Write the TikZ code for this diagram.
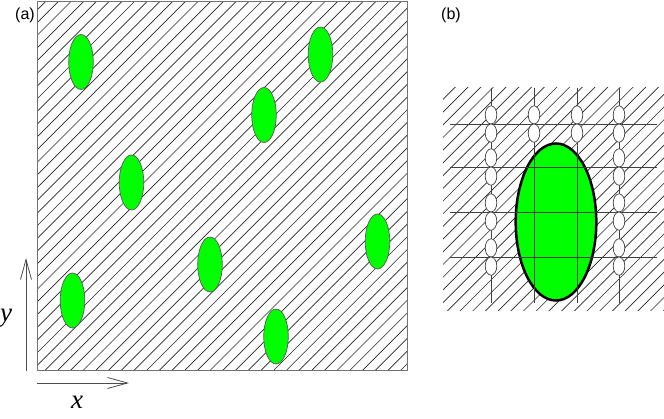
\documentclass[tikz,border=0pt]{standalone}
\usepackage{fontspec}
\setmainfont{Liberation Serif}
\newfontfamily\labfont{Liberation Sans}
\usetikzlibrary{arrows.meta}
\definecolor{blobgreen}{RGB}{0,255,0}
\begin{document}
\begin{tikzpicture}[x=1pt,y=-1pt,
  hatchline/.style={line width=0.65pt, black!85},
  frame/.style={draw=black!55, line width=1pt},
  blob/.style={fill=blobgreen, draw=black!65, line width=0.7pt},
  bigblob/.style={fill=blobgreen, draw=black, line width=2.5pt},
  gridline/.style={draw=black!75, line width=0.8pt},
  small/.style={fill=white, draw=black!75, line width=0.7pt},
  axis/.style={draw=black!70, line width=0.8pt, -{Straight Barb[length=20pt,width=11pt]}},
  panellabel/.style={font=\labfont\fontsize{16}{16}\selectfont, inner sep=0pt},
  axlabel/.style={font=\fontsize{27}{27}\selectfont\itshape, inner sep=0pt}]
\useasboundingbox (0,0) rectangle (664,418);
% panel (a)
\begin{scope}
  \clip (37,1) rectangle (407,370);
  \foreach \k in {-50,...,11} {
    \pgfmathsetmacro\c{656.7+12.7*\k}
    \draw[hatchline] (\c-420,420) -- (\c,0);
  }
\end{scope}
\draw[frame] (37,1) rectangle (407,370);
\foreach \cx/\cy in {81/62, 320.5/54.5, 264/115, 131.5/182.5, 210/264.5, 377.5/241.5, 72.5/300.5, 276/336.5} {
  \draw[blob] (\cx,\cy) ellipse [x radius=12.3pt, y radius=27.5pt];
}
\coordinate (yo) at (26,371);
\coordinate (yt) at (26,258);
\draw[axis] (yo) -- (yt);
\coordinate (xo) at (37,383);
\coordinate (xt) at (129,383);
\draw[axis] (xo) -- (xt);
\node[axlabel] (ylab) at (6,318) {y};
\node[axlabel] (xlab) at (77,402) {x};
\node[panellabel] (la) at (25,15) {(a)};
\node[panellabel] (lb) at (451,15) {(b)};
% panel (b)
\begin{scope}
  \clip (443,87) rectangle (664,310);
  \foreach \k in {-12,...,27} {
    \pgfmathsetmacro\c{656.7+12.7*\k}
    \draw[hatchline] (\c-420,420) -- (\c,0);
  }
\end{scope}
\draw[bigblob] (556,222) ellipse [x radius=40.3pt, y radius=78.5pt];
\foreach \gx in {491,534,577,619} {
  \draw[gridline] (\gx,88) -- (\gx,303);
}
\foreach \gy in {124,167,212,257} {
  \draw[gridline] (450,\gy) -- (657,\gy);
}
\foreach \gx/\gy in {491/124,491/167,491/212,491/257,534/124,577/124,619/124,619/167,619/212,619/257} {
  \draw[small] (\gx,\gy-9.1) ellipse [x radius=5.8pt, y radius=9.1pt];
  \draw[small] (\gx,\gy+9.1) ellipse [x radius=5.8pt, y radius=9.1pt];
}
\end{tikzpicture}
\end{document}
